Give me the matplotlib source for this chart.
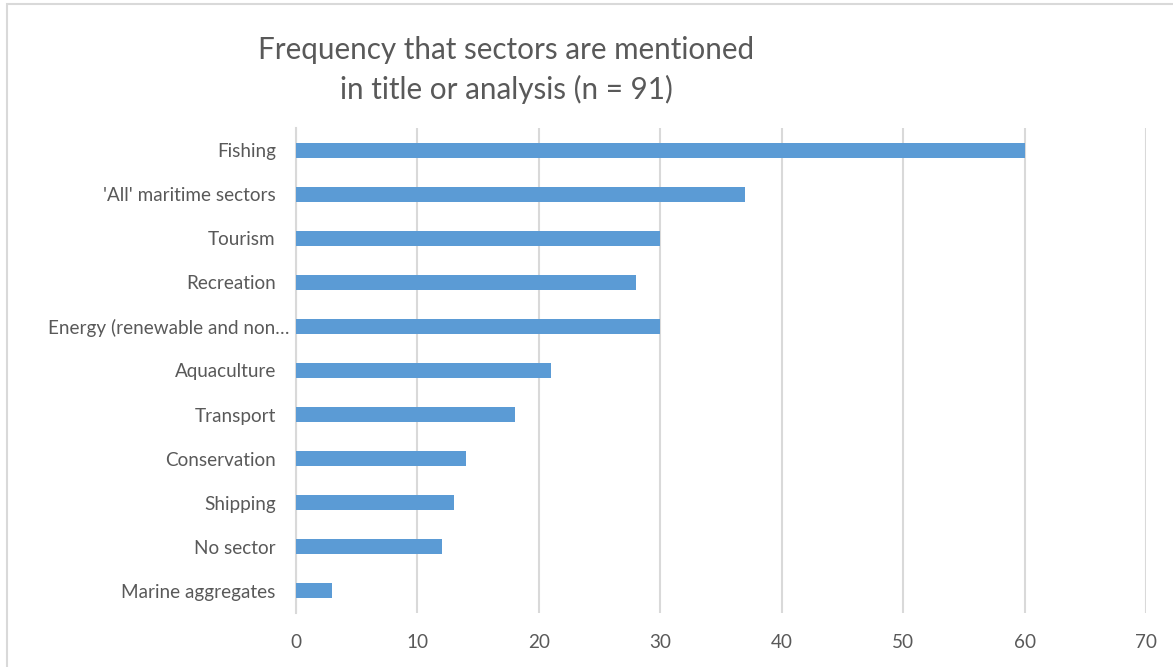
import matplotlib.pyplot as plt
from matplotlib.patches import Rectangle

sectors = ['Fishing', "'All' maritime sectors", 'Tourism', 'Recreation',
           'Energy (renewable and non\u2026', 'Aquaculture', 'Transport',
           'Conservation', 'Shipping', 'No sector', 'Marine aggregates']
counts = [60, 37, 30, 28, 30, 21, 18, 14, 13, 12, 3]
x_ticks = [0, 10, 20, 30, 40, 50, 60, 70]

plt.rcParams['font.family'] = ['Lato', 'DejaVu Sans']
text_grey = '#595959'
grid_grey = '#D9D9D9'


def plot_sector_frequency():
    """Số lần các lĩnh vực được nhắc đến"""
    fig = plt.figure(figsize=(11.73, 6.67), dpi=100)
    ax = fig.add_axes([296 / 1173, 1 - 613 / 667, 850 / 1173, 485 / 667])

    positions = range(len(sectors))
    ax.barh(positions, counts, height=0.34, color='#5B9BD5', zorder=3)
    ax.set_ylim(len(sectors) - 0.5, -0.5)
    ax.set_xlim(0, 70)

    ax.set_yticks(list(positions))
    ax.set_yticklabels(sectors, fontsize=13.6, color=text_grey)
    ax.set_xticks(x_ticks)
    ax.set_xticklabels([str(t) for t in x_ticks], fontsize=13.6, color=text_grey)
    ax.tick_params(axis='y', length=0, pad=14.5)
    ax.tick_params(axis='x', length=0, pad=15)

    # the long energy label sits closer to the axis
    ax.get_yticklabels()[4].set_x(0.016)

    ax.grid(axis='x', color=grid_grey, linewidth=1.5, zorder=0)
    for side in ['top', 'right', 'bottom']:
        ax.spines[side].set_visible(False)
    ax.spines['left'].set_color(grid_grey)
    ax.spines['left'].set_linewidth(1.5)

    fig.text(506 / 1173, 1 - 50 / 667, 'Frequency that sectors are mentioned',
             ha='center', va='center', fontsize=21.3, color=text_grey)
    fig.text(506 / 1173, 1 - 89 / 667, 'in title or analysis (n = 91)',
             ha='center', va='center', fontsize=21.3, color=text_grey)

    # chart frame
    fig.patches.append(Rectangle((7 / 1173, -0.05), 1.1, 1 - 4 / 667 + 0.05,
                                 transform=fig.transFigure, fill=False,
                                 edgecolor=grid_grey, linewidth=1.5))

    fig.savefig('out.png', dpi=100)
    plt.close()


if __name__ == "__main__":
    plot_sector_frequency()
